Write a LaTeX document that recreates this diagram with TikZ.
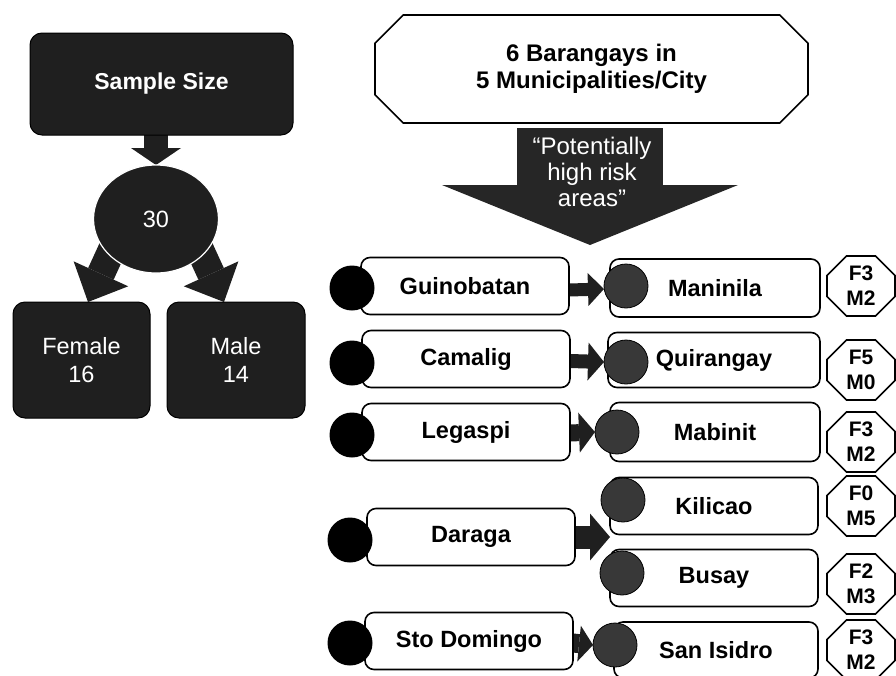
\documentclass[tikz,border=0pt]{standalone}
\usepackage{fontspec}
\setmainfont{Liberation Sans}
\usetikzlibrary{shapes.misc,shapes.geometric,arrows.meta,calc}
\pgfdeclarelayer{back}
\pgfsetlayers{back,main}

\begin{document}
\begin{tikzpicture}[x=1pt,y=-1pt,
  every node/.style={inner sep=0pt,outer sep=0pt},
  txt/.style={font=\fontsize{23.5}{28}\selectfont},
  darkbox/.style={rectangle,rounded corners=12pt,fill=black!88,draw=black,line width=1pt,
    text=white,align=center,txt},
  whitebox/.style={rectangle,rounded corners=9pt,fill=white,draw=black,line width=1.6pt,
    align=center,font=\fontsize{23.5}{28}\selectfont\bfseries,
    minimum width=208pt,minimum height=57pt},
  citydot/.style={circle,fill=black,minimum size=45pt},
  brgydot/.style={circle,fill=black!78,draw=black,line width=0.8pt,minimum size=44pt},
  tally/.style={chamfered rectangle,chamfered rectangle xsep=16pt,draw=black,line width=1.6pt,
    fill=white,minimum width=68pt,minimum height=60pt,align=center,
    font=\fontsize{21}{25}\selectfont\bfseries},
  flow/.style n args={3}{draw=black!88,line width=#1,
    -{Triangle[width=#2,length=#3,line width=0pt]}}
]
\clip (0,0) rectangle (896,675);

% ---- sample size tree ----
\node[darkbox,font=\fontsize{23}{28}\selectfont\bfseries,
      minimum width=263pt,minimum height=102pt] (ss) at (161.5,84) {Sample Size};
\node[ellipse,fill=black!88,draw=white,line width=1.2pt,minimum width=125pt,
      minimum height=108pt,text=white,txt] (n30) at (156,219) {30};
\node[darkbox,minimum width=137pt,minimum height=116pt] (fem) at (81.5,360) {Female\\16};
\node[darkbox,minimum width=138pt,minimum height=116pt] (mal) at (236,360) {Male\\14};

% ---- study areas header ----
\node[chamfered rectangle,chamfered rectangle xsep=28pt,draw=black,line width=1.6pt,
      fill=white,minimum width=433pt,minimum height=108pt,align=center,
      font=\fontsize{24}{27}\selectfont\bfseries] (title) at (591.5,69)
      {6 Barangays in\\5 Municipalities/City};
\coordinate (bigtop) at (590,128);
\coordinate (bigtip) at (590,245);

% ---- municipalities and barangays ----
\node[whitebox] (gui) at (465,286) {Guinobatan};
\node[citydot] (guid) at (352,288) {};
\node[whitebox,minimum width=210pt,minimum height=58pt] (man) at (715,288) {Maninila};
\node[brgydot] (mand) at (626,286) {};
\node[tally] (tman) at (861,286) {F3\\M2};

\node[whitebox] (cam) at (466,359) {Camalig};
\node[citydot] (camd) at (352,363) {};
\node[whitebox,minimum width=212pt,minimum height=55pt] (qui) at (714,360) {Quirangay};
\node[brgydot] (quid) at (626,362) {};
\node[tally] (tqui) at (861,370) {F5\\M0};

\node[whitebox] (leg) at (466,432) {Legaspi};
\node[citydot] (legd) at (352,435) {};
\node[whitebox,minimum width=210pt,minimum height=59pt] (mab) at (715,432) {Mabinit};
\node[brgydot] (mabd) at (617,432) {};
\node[tally] (tmab) at (861,442) {F3\\M2};

\node[whitebox] (kil) at (714,506) {Kilicao};
\node[brgydot] (kild) at (623,500) {};
\node[tally] (tkil) at (861,506) {F0\\M5};

\node[whitebox] (bus) at (714,578) {Busay};
\node[brgydot] (busd) at (622,573) {};
\node[tally] (tbus) at (861,584) {F2\\M3};

\node[whitebox] (dar) at (471,537) {Daraga};
\node[citydot] (dard) at (350,540) {};
\coordinate (split) at (610,537);

\node[whitebox] (sto) at (469,641) {Sto Domingo};
\node[citydot] (stod) at (350,643) {};
\node[whitebox,minimum width=204pt,minimum height=56pt] (san) at (716,650) {San Isidro};
\node[brgydot] (sand) at (615,645) {};
\node[tally] (tsan) at (861,650) {F3\\M2};

% ---- page and block arrows, kept beneath the shapes ----
\begin{pgfonlayer}{back}
  \fill[white] (0,0) rectangle (896,675);
  \draw[flow={24pt}{50pt}{17pt}] (n30.north |- ss.south) -- (n30.north);
  \draw[flow={28pt}{60pt}{31pt}] ([xshift=-30pt]n30.center) -- ([xshift=6.5pt]fem.north);
  \draw[flow={28pt}{60pt}{31pt}] ([xshift=30pt]n30.center) -- ([xshift=-12pt]mal.north);
  \draw[flow={146pt}{296pt}{60pt},draw=black!85] (bigtop) -- (bigtip);
  \draw[flow={13pt}{33pt}{16pt}] ([yshift=-4pt]gui.east) -- ([yshift=-3pt]mand.west);
  \draw[flow={14pt}{38pt}{16pt}] ([yshift=-2pt]cam.east) -- (quid.west);
  \draw[flow={17pt}{40pt}{16pt}] ([yshift=-1pt]leg.east) -- (mabd.west);
  \draw[flow={23pt}{47pt}{20pt}] (dar.east) -- (split);
  \draw[flow={19pt}{36pt}{14pt}] ([yshift=-2pt]sto.east) -- (sand.west);
\end{pgfonlayer}

\node[text=white,align=center,font=\fontsize{24}{26}\selectfont] (risk) at (592,172)
  {“Potentially\\high risk\\areas”};
\end{tikzpicture}
\end{document}
